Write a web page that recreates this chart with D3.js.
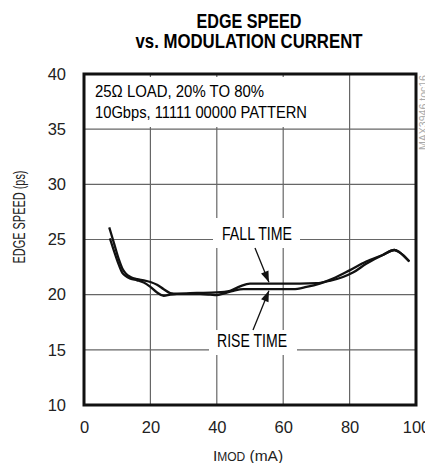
<!DOCTYPE html>
<html><head><meta charset="utf-8">
<script src="https://cdn.jsdelivr.net/npm/d3@7"></script>
<style>
body{margin:0;background:#fff;}
text{font-family:"Liberation Sans Narrow","Arial Narrow","Liberation Sans",Arial,sans-serif;}
</style></head>
<body><svg id="c" width="425" height="463"></svg>
<script>
const titleLines = ["EDGE SPEED", "vs. MODULATION CURRENT"];
const xTicks = [0, 20, 40, 60, 80, 100];
const yTicks = [10, 15, 20, 25, 30, 35, 40];
const noteLines = ["25\u03A9 LOAD, 20% TO 80%", "10Gbps, 11111 00000 PATTERN"];
const seriesNames = ["FALL TIME", "RISE TIME"];
const fallTime = [[7.6,26.1],[9,24.7],[10.5,23.2],[11.5,22.4],[12.5,21.95],[14,21.6],[16,21.4],[18,21.3],[20,21.15],[22,20.9],[24,20.5],[26,20.15],[28,20.1],[34,20.15],[40,20.2],[44,20.35],[47,20.75],[50,21.0],[60,21.0],[70,21.05],[74,21.25],[78,21.6],[81,22.0],[85,22.8],[90,23.6],[93.5,24.05],[95,23.85],[98,23.0]];
const riseTime = [[7.8,25.1],[9,24.0],[10.5,22.7],[11.5,22.0],[12.5,21.7],[14,21.45],[16,21.3],[18,21.1],[20,20.7],[22,20.2],[24,19.9],[26,20.0],[28,20.05],[35,20.05],[38,20.0],[40,19.95],[42,20.1],[45,20.35],[48,20.5],[63,20.5],[67,20.7],[71,21.0],[75,21.45],[80,22.2],[85,23.0],[90,23.6],[93.5,24.05],[95,23.85],[98,23.0]];

const svg = d3.select("#c");
const x = d3.scaleLinear().domain([0,100]).range([84,416]);
const y = d3.scaleLinear().domain([10,40]).range([405,74]);

// title
svg.append("text").attr("x",249).attr("y",27.5).attr("text-anchor","middle")
  .attr("font-size",20).attr("font-weight","bold").attr("textLength",105).attr("lengthAdjust","spacingAndGlyphs").text(titleLines[0]);
svg.append("text").attr("x",249).attr("y",47.5).attr("text-anchor","middle")
  .attr("font-size",20).attr("font-weight","bold").attr("textLength",227).attr("lengthAdjust","spacingAndGlyphs").text(titleLines[1]);

// gridlines
const g = svg.append("g");
g.selectAll(".vg").data(xTicks.slice(1,-1)).enter().append("line")
  .attr("x1",d=>x(d)).attr("x2",d=>x(d)).attr("y1",y(40)).attr("y2",y(10))
  .attr("stroke","#666").attr("stroke-width",1.2);
g.selectAll(".hg").data(yTicks.slice(1,-1)).enter().append("line")
  .attr("x1",x(0)).attr("x2",x(100)).attr("y1",d=>y(d)).attr("y2",d=>y(d))
  .attr("stroke","#666").attr("stroke-width",1.2);

// white boxes behind annotations
svg.append("rect").attr("x",86).attr("y",77).attr("width",214).attr("height",50).attr("fill","#fff");
svg.append("rect").attr("x",213).attr("y",218).attr("width",87).attr("height",30).attr("fill","#fff");
svg.append("rect").attr("x",209).attr("y",330).attr("width",88).attr("height",25).attr("fill","#fff");

// note text
svg.append("text").attr("x",95).attr("y",97).attr("font-size",17).attr("textLength",169).attr("lengthAdjust","spacingAndGlyphs").text(noteLines[0]);
svg.append("text").attr("x",95).attr("y",118).attr("font-size",17).attr("textLength",212).attr("lengthAdjust","spacingAndGlyphs").text(noteLines[1]);

// series labels
svg.append("text").attr("x",257).attr("y",240).attr("text-anchor","middle").attr("font-size",18).attr("textLength",70).attr("lengthAdjust","spacingAndGlyphs").text(seriesNames[0]);
svg.append("text").attr("x",252).attr("y",347).attr("text-anchor","middle").attr("font-size",18).attr("textLength",70).attr("lengthAdjust","spacingAndGlyphs").text(seriesNames[1]);

// curves
const line = d3.line().x(d=>x(d[0])).y(d=>y(d[1])).curve(d3.curveMonotoneX);
[fallTime, riseTime].forEach(s=>{
  svg.append("path").attr("d",line(s)).attr("fill","none").attr("stroke","#111").attr("stroke-width",2.3).attr("stroke-linejoin","round");
});

// arrows
function arrow(x1,y1,x2,y2){
  svg.append("line").attr("x1",x1).attr("y1",y1).attr("x2",x2).attr("y2",y2).attr("stroke","#111").attr("stroke-width",1.3);
  const a = Math.atan2(y2-y1,x2-x1), L=11, W=4;
  const bx = x2 - L*Math.cos(a), by = y2 - L*Math.sin(a);
  const px = -Math.sin(a)*W, py = Math.cos(a)*W;
  svg.append("path").attr("d",`M${x2},${y2}L${bx+px},${by+py}L${bx-px},${by-py}Z`).attr("fill","#111");
}
arrow(255,248, x(56)-1, y(21.0)-1.5);
arrow(253,330, x(56)-1, y(20.5)+1.5);

// frame
svg.append("rect").attr("x",x(0)).attr("y",y(40)).attr("width",x(100)-x(0)).attr("height",y(10)-y(40))
  .attr("fill","none").attr("stroke","#111").attr("stroke-width",3);

// axes tick labels
const ya = d3.axisLeft(y).tickValues(yTicks).tickSize(0).tickPadding(18);
const yg = svg.append("g").attr("transform",`translate(${x(0)},0)`).call(ya);
yg.select(".domain").remove();
yg.selectAll("text").attr("font-size",16.5).attr("fill","#222").attr("font-family",null);
const xa = d3.axisBottom(x).tickValues(xTicks).tickSize(0).tickPadding(16);
const xg = svg.append("g").attr("transform",`translate(0,${y(10)})`).call(xa);
xg.select(".domain").remove();
xg.selectAll("text").attr("font-size",16.5).attr("fill","#222").attr("font-family",null);

// axis titles
svg.append("text").attr("transform","translate(25,217) rotate(-90)").attr("text-anchor","middle")
  .attr("font-size",17).attr("fill","#222").attr("textLength",93).attr("lengthAdjust","spacingAndGlyphs").text("EDGE SPEED (ps)");
const xt = svg.append("text").attr("x",248).attr("y",461).attr("text-anchor","middle").attr("font-size",15.5).attr("fill","#222");
xt.append("tspan").text("I");
xt.append("tspan").attr("font-size",12).text("MOD");
xt.append("tspan").text(" (mA)");

// watermark
svg.append("text").attr("transform","translate(427,150) rotate(-90)").attr("font-size",10).attr("fill","#aaa")
  .attr("textLength",75).attr("lengthAdjust","spacingAndGlyphs").text("MAX3946 toc16");
</script></body></html>
